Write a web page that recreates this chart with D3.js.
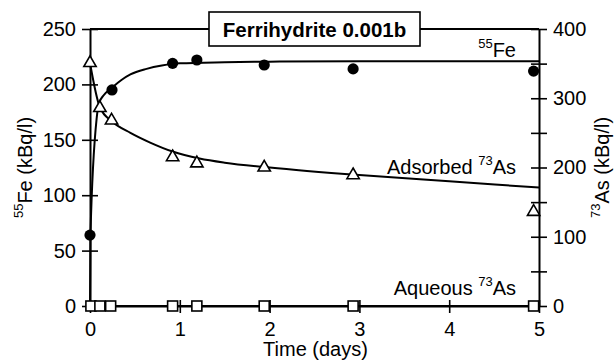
<!DOCTYPE html>
<html>
<head>
<meta charset="utf-8">
<script src="https://cdn.jsdelivr.net/npm/d3@7"></script>
<style>
  html, body { margin: 0; padding: 0; background: #fff; }
  svg { display: block; font-family: "Liberation Sans", Arial, sans-serif; }
</style>
</head>
<body>
<svg id="chart" width="615" height="360"></svg>
<script>
// Measured 55Fe activity (left axis, kBq/l)
const feTime = [0, 0.245, 0.92, 1.19, 1.94, 2.93, 4.94];
const feValue = [64, 195, 219, 222, 217.5, 214, 212];

// Adsorbed 73As (right axis, kBq/l)
const adsTime = [0, 0.11, 0.24, 0.92, 1.19, 1.94, 2.93, 4.94];
const adsValue = [351, 286, 268, 215, 206, 200, 189, 136];

// Aqueous 73As (right axis, kBq/l)
const aqTime = [0.01, 0.11, 0.23, 0.92, 1.19, 1.94, 2.93, 4.94];
const aqValue = [0, 0, 0, 0, 0, 0, 0, 0];

// Fitted model curves
const feFitTime = [0, 0.005, 0.075, 0.1, 0.15, 0.245, 0.35, 0.45, 0.63, 0.8, 1, 1.5, 2, 3, 4, 5];
const feFitValue = [0, 64, 170, 183, 190, 197, 204, 209, 214, 217, 219, 220, 220.5, 221, 221, 221];
const adsFitTime = [0, 0.11, 0.25, 0.45, 0.67, 0.92, 1.22, 1.5, 2, 3, 4, 5];
const adsFitValue = [351, 287, 266, 250, 236, 223, 213, 207, 200, 189, 180, 171];

// Axis ticks
const xTicks = [0, 1, 2, 3, 4, 5];
const leftTicks = [0, 50, 100, 150, 200, 250];
const rightTicks = [0, 50, 100, 150, 200, 250, 300, 350, 400];
const rightLabelled = [0, 100, 200, 300, 400];

const svg = d3.select("#chart");
const L = 90, R = 539, T = 29, B = 306;

const x = d3.scaleLinear().domain([0, 5]).range([L, R]);
const yL = d3.scaleLinear().domain([0, 250]).range([B, T]);
const yR = d3.scaleLinear().domain([0, 400]).range([B, T]);

const axisStroke = 2;
const fontSize = 20;

// frame top line
svg.append("line").attr("x1", L).attr("x2", R).attr("y1", T).attr("y2", T)
  .attr("stroke", "#000").attr("stroke-width", axisStroke);

function styleAxis(g) {
  g.selectAll(".domain").attr("stroke", "#000").attr("stroke-width", axisStroke);
  g.selectAll(".tick line").attr("stroke", "#000").attr("stroke-width", 1.6);
  g.selectAll(".tick text").attr("fill", "#000").attr("font-size", fontSize)
    .attr("font-family", "Liberation Sans, Arial, sans-serif");
}

// bottom axis
svg.append("g").attr("transform", `translate(0,${B})`)
  .call(d3.axisBottom(x).tickValues(xTicks).tickFormat(d3.format("d")).tickSizeOuter(0).tickSizeInner(6).tickPadding(10))
  .call(styleAxis)
  .call(g => g.selectAll(".tick line").attr("y1", -6).attr("y2", 7));

// left axis
svg.append("g").attr("transform", `translate(${L},0)`)
  .call(d3.axisLeft(yL).tickValues(leftTicks).tickFormat(d3.format("d")).tickSizeOuter(0).tickSizeInner(8).tickPadding(6))
  .call(styleAxis)
  .call(g => g.selectAll(".tick line").attr("x1", -8).attr("x2", 8));

// right axis
svg.append("g").attr("transform", `translate(${R},0)`)
  .call(d3.axisRight(yR).tickValues(rightTicks)
    .tickFormat(d => rightLabelled.includes(d) ? d3.format("d")(d) : "")
    .tickSizeOuter(0).tickSizeInner(8).tickPadding(6))
  .call(styleAxis)
  .call(g => g.selectAll(".tick line").attr("x1", -8).attr("x2", 8));

// fitted curves
const feLine = d3.line().x(i => x(feFitTime[i])).y(i => yL(feFitValue[i])).curve(d3.curveMonotoneX);
const adsLine = d3.line().x(i => x(adsFitTime[i])).y(i => yR(adsFitValue[i])).curve(d3.curveMonotoneX);
const aqLine = d3.line().x(i => x(aqTime[i])).y(i => yR(aqValue[i]));

svg.append("path").attr("d", feLine(d3.range(feFitTime.length)))
  .attr("fill", "none").attr("stroke", "#000").attr("stroke-width", 2);
svg.append("path").attr("d", adsLine(d3.range(adsFitTime.length)))
  .attr("fill", "none").attr("stroke", "#000").attr("stroke-width", 2);
svg.append("path").attr("d", aqLine(d3.range(aqTime.length)))
  .attr("fill", "none").attr("stroke", "#000").attr("stroke-width", 2);

// aqueous squares
svg.append("g").selectAll("rect").data(d3.range(aqTime.length)).join("rect")
  .attr("x", i => x(aqTime[i]) - 5).attr("y", i => yR(aqValue[i]) - 5)
  .attr("width", 10).attr("height", 10)
  .attr("fill", "#fff").attr("stroke", "#000").attr("stroke-width", 1.6);

// adsorbed triangles
const tri = d3.symbol().type(d3.symbolTriangle).size(66);
svg.append("g").selectAll("path").data(d3.range(adsTime.length)).join("path")
  .attr("d", tri)
  .attr("transform", i => `translate(${x(adsTime[i])},${yR(adsValue[i])})`)
  .attr("fill", "#fff").attr("stroke", "#000").attr("stroke-width", 1.6);

// Fe circles
svg.append("g").selectAll("circle").data(d3.range(feTime.length)).join("circle")
  .attr("cx", i => x(feTime[i])).attr("cy", i => yL(feValue[i]))
  .attr("r", 5.6).attr("fill", "#000");

// title box
const title = svg.append("g");
title.append("rect").attr("x", 209).attr("y", 12).attr("width", 211).attr("height", 34)
  .attr("fill", "#fff").attr("stroke", "#000").attr("stroke-width", 1.6);
title.append("text").attr("x", 314.5).attr("y", 37).attr("text-anchor", "middle")
  .attr("font-size", 20.5).attr("font-weight", "bold").text("Ferrihydrite 0.001b");

// series labels with superscript isotopes
function isoLabel(t, pre, iso, el, post) {
  if (pre) t.append("tspan").text(pre);
  t.append("tspan").attr("font-size", 13).attr("dy", -9).text(iso);
  t.append("tspan").attr("dy", 9).text(el);
  if (post) t.append("tspan").text(post);
  return t;
}

isoLabel(svg.append("text").attr("x", 516).attr("y", 57).attr("text-anchor", "end").attr("font-size", fontSize),
  "", "55", "Fe", "");
isoLabel(svg.append("text").attr("x", 516).attr("y", 174).attr("text-anchor", "end").attr("font-size", fontSize),
  "Adsorbed ", "73", "As", "");
isoLabel(svg.append("text").attr("x", 516).attr("y", 295).attr("text-anchor", "end").attr("font-size", fontSize),
  "Aqueous ", "73", "As", "");

// axis titles
svg.append("text").attr("x", (L + R) / 2 + 1).attr("y", 356).attr("text-anchor", "middle")
  .attr("font-size", fontSize).text("Time (days)");

isoLabel(svg.append("text").attr("transform", `translate(32,${(T + B) / 2}) rotate(-90)`)
  .attr("text-anchor", "middle").attr("font-size", fontSize), "", "55", "Fe", " (kBq/l)");
isoLabel(svg.append("text").attr("transform", `translate(609,${(T + B) / 2}) rotate(-90)`)
  .attr("text-anchor", "middle").attr("font-size", fontSize), "", "73", "As", " (kBq/l)");
</script>
</body>
</html>
